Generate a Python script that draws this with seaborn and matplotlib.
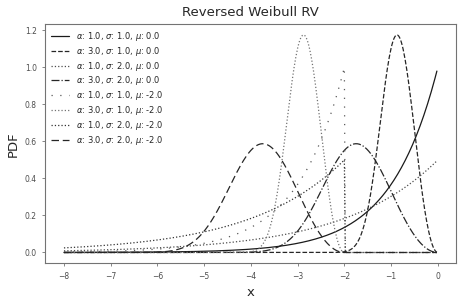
import numpy as np
import pandas as pd
import seaborn as sns
from matplotlib import pyplot as plt

# parameters
alphas = [1.0, 3.0, 1.0, 3.0, 1.0, 3.0, 1.0, 3.0]
sigmas = [1.0, 1.0, 2.0, 2.0, 1.0, 1.0, 2.0, 2.0]
mus = [0.0, 0.0, 0.0, 0.0, -2.0, -2.0, -2.0, -2.0]
styles = ['-', '--', ':', '-.', (0, (1, 6)), ':', ':', (0, (6, 3))]
colors = ['0.1', '0.15', '0.3', '0.15', '0.35', '0.45', '0.2', '0.15']

x_start, x_stop, x_step = -8.0, 0.0, 0.02


def reversed_weibull_pdf(x, alpha, sigma, mu):
    '''pdf of reversed weibull, zero for x > mu'''
    z = (mu - x) / sigma
    out = np.zeros_like(x)
    ok = z >= 0
    out[ok] = alpha / sigma * z[ok] ** (alpha - 1) * np.exp(-z[ok] ** alpha)
    return out


sns.set_style('ticks')
plt.rcParams['axes.edgecolor'] = '0.45'
plt.rcParams['xtick.color'] = '0.45'
plt.rcParams['ytick.color'] = '0.45'
plt.rcParams['xtick.labelcolor'] = '0.3'
plt.rcParams['ytick.labelcolor'] = '0.3'

f, ax = plt.subplots(figsize=(4.77, 3.01), dpi=100)

xs = np.arange(x_start, x_stop, x_step)
for a, s, m, ls, c in zip(alphas, sigmas, mus, styles, colors):
    df = pd.DataFrame({'x': xs, 'pdf': reversed_weibull_pdf(xs, a, s, m)})
    lab = r'$\alpha$: {}, $\sigma$: {}, $\mu$: {}'.format(a, s, m)
    sns.lineplot(data=df, x='x', y='pdf', color=c, linestyle=ls, lw=0.9,
                 estimator=None, label=lab, ax=ax)

ax.set_title('Reversed Weibull RV', fontsize=9.5)
ax.set_xlabel('x', fontsize=9.5)
ax.set_ylabel('PDF', fontsize=9.5)
ax.tick_params(labelsize=5.5, length=2.5, width=0.6)
for sp in ax.spines.values():
    sp.set_linewidth(0.8)
ax.set_yticks([0.0, 0.2, 0.4, 0.6, 0.8, 1.0, 1.2])
ax.legend(loc='upper left', frameon=False, fontsize=6, handlelength=2.2,
          labelspacing=0.22, borderaxespad=0.3)

f.subplots_adjust(left=0.095, right=0.955, top=0.92, bottom=0.125)
f.savefig('out.png', dpi=100)
